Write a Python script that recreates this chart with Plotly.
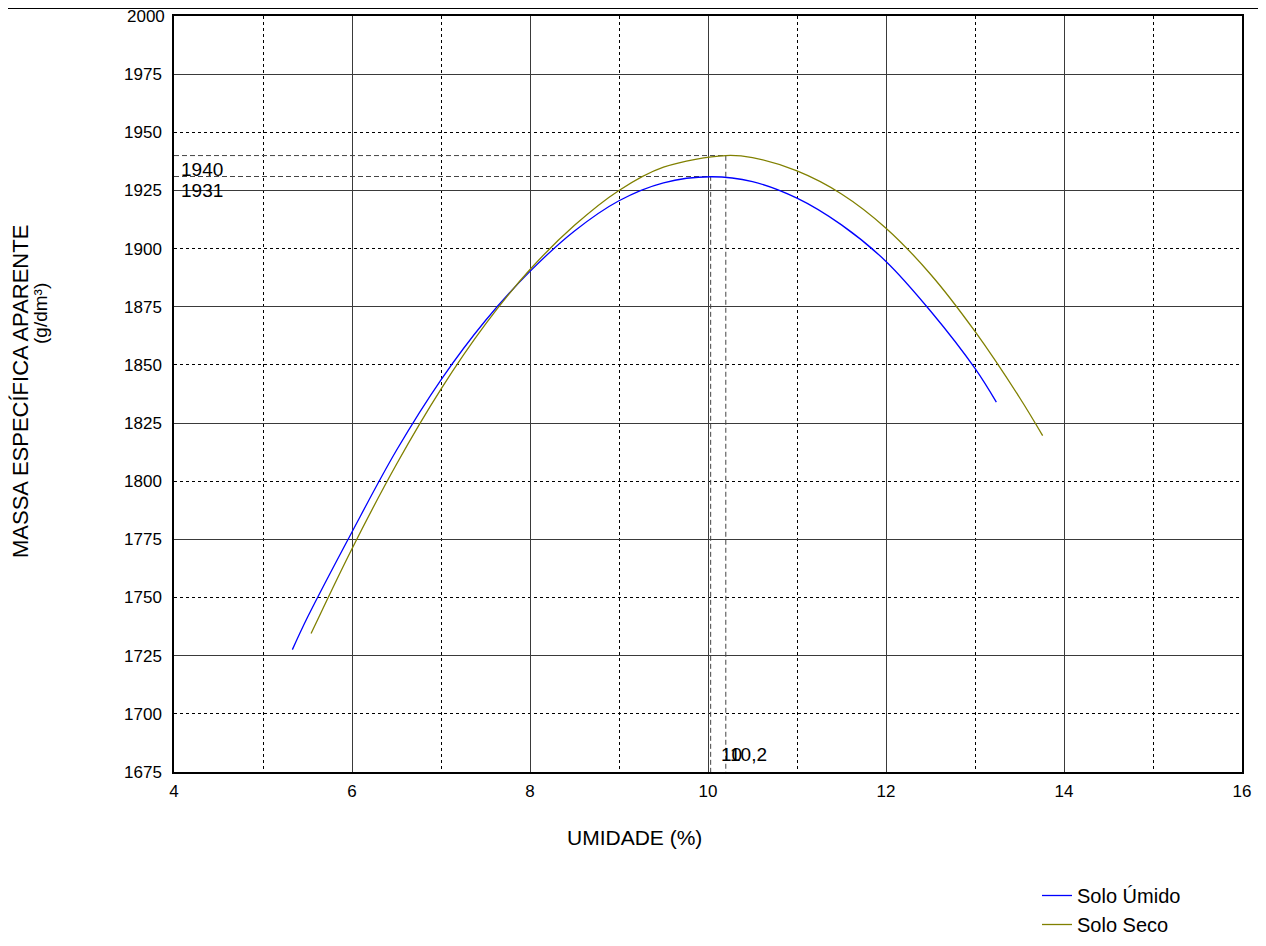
import plotly.graph_objects as go

# --- data ---
umido_x = [5.33, 5.5, 6.0, 6.5, 7.0, 7.5, 8.0, 8.5, 9.0, 9.5, 10.03, 10.5, 11.0, 11.5, 12.0, 12.5, 13.0, 13.24]
umido_y = [1727.6, 1741.5, 1778.2, 1813.3, 1843.6, 1869.1, 1890.2, 1907.6, 1920.6, 1928.3, 1930.9, 1928.8, 1921.7, 1910.2, 1894.5, 1873.2, 1848.5, 1834.0]

seco_x = [5.54, 6.0, 6.5, 7.0, 7.5, 8.0, 8.5, 9.0, 9.5, 10.2, 10.5, 11.0, 11.5, 12.0, 12.5, 13.0, 13.5, 13.76]
seco_y = [1734.5, 1771.0, 1807.3, 1839.6, 1867.5, 1891.0, 1910.0, 1925.0, 1935.0, 1940.0, 1939.1, 1933.4, 1923.5, 1908.8, 1889.0, 1864.4, 1836.0, 1819.6]

opt_x = [10.03, 10.2]
opt_y = [1931, 1940]
opt_x_labels = ["10", "10,2"]
opt_y_labels = ["1931", "1940"]

series_names = ["Solo Úmido", "Solo Seco"]
series_colors = ["#0000FF", "#808000"]

x_range = [4, 16]
y_range = [1675, 2000]
x_ticks = [4, 6, 8, 10, 12, 14, 16]
y_ticks = list(range(1675, 2001, 25))
x_solid_grid = [6, 8, 10, 12, 14]
y_solid_grid = list(range(1725, 2000, 50))

FONT = "Liberation Sans, Arial, sans-serif"

# figure geometry (page body has an 8px margin)
W, H = 1258, 938
ML, MT, PW, PH = 166, 8, 1068, 756
PB = MT + PH  # plot bottom in figure px


def px_x(xf):
    return (xf - ML) / PW


def px_y(yf):
    return (PB - yf) / PH


fig = go.Figure()

# invisible helper trace so the overlay axes (solid grid) exist
fig.add_trace(go.Scatter(x=umido_x, y=umido_y, xaxis="x2", yaxis="y2",
                         mode="lines", line=dict(width=0), opacity=0,
                         showlegend=False, hoverinfo="skip"))

# dashed guide lines to the optimum points
for ox, oy in zip(opt_x, opt_y):
    fig.add_trace(go.Scatter(x=[x_range[0], ox, ox], y=[oy, oy, y_range[0]],
                             mode="lines", line=dict(color="#444444", width=1, dash="5px,3px"),
                             showlegend=False, hoverinfo="skip"))

fig.add_trace(go.Scatter(x=umido_x, y=umido_y, name=series_names[0], mode="lines",
                         line=dict(color=series_colors[0], width=1.3, shape="spline", smoothing=1.0)))
fig.add_trace(go.Scatter(x=seco_x, y=seco_y, name=series_names[1], mode="lines",
                         line=dict(color=series_colors[1], width=1.3, shape="spline", smoothing=1.0)))

annotations = []
for oy, lab in zip(opt_y, opt_y_labels):
    annotations.append(dict(x=x_range[0], y=oy, xref="x", yref="y", text=lab, showarrow=False,
                            xanchor="left", yanchor="top", xshift=5, yshift=-1,
                            font=dict(family=FONT, size=19, color="black")))
shifts = [8, 2]
for ox, lab, sh in zip(opt_x, opt_x_labels, shifts):
    annotations.append(dict(x=ox, y=y_range[0], xref="x", yref="y", text=lab, showarrow=False,
                            xanchor="left", yanchor="bottom", xshift=sh, yshift=5,
                            font=dict(family=FONT, size=19, color="black")))

# top y tick label (the built-in one would sit partly above the page edge)
annotations.append(dict(x=0, y=y_ticks[-1], xref="paper", yref="y", text=str(y_ticks[-1]),
                        showarrow=False, xanchor="right", yanchor="middle", xshift=-7,
                        font=dict(family=FONT, size=17, color="black")))

# axis titles
annotations.append(dict(x=px_x(12), y=px_y(384), xref="paper", yref="paper",
                        text="MASSA ESPECÍFICA APARENTE", textangle=-90, showarrow=False,
                        xanchor="center", yanchor="middle",
                        font=dict(family=FONT, size=22, color="black")))
annotations.append(dict(x=px_x(32), y=px_y(306), xref="paper", yref="paper",
                        text="(g/dm³)", textangle=-90, showarrow=False,
                        xanchor="center", yanchor="middle",
                        font=dict(family=FONT, size=19, color="black")))
annotations.append(dict(x=px_x(626), y=px_y(830), xref="paper", yref="paper",
                        text="UMIDADE (%)", showarrow=False, xanchor="center", yanchor="middle",
                        font=dict(family=FONT, size=21, color="black")))

shapes = [
    # outer frame (top and right edges)
    dict(type="line", xref="paper", yref="paper", x0=px_x(0), x1=px_x(1254),
         y0=px_y(0.5), y1=px_y(0.5), line=dict(color="black", width=1)),
    dict(type="line", xref="paper", yref="paper", x0=px_x(1254), x1=px_x(1254),
         y0=px_y(0), y1=px_y(H + 5), line=dict(color="black", width=1)),
]

fig.update_layout(
    width=W, height=H,
    margin=dict(l=ML, r=W - ML - PW, t=MT, b=H - PB, autoexpand=False),
    paper_bgcolor="white", plot_bgcolor="white",
    font=dict(family=FONT, size=17, color="black"),
    xaxis=dict(range=x_range, tickvals=x_ticks, showgrid=False,
               minor=dict(dtick=1, tick0=4, showgrid=True, gridcolor="black", griddash="dot", gridwidth=1),
               showline=True, linecolor="black", linewidth=1.5, mirror=True,
               ticks="", zeroline=False, tickfont=dict(size=17), ticklabelstandoff=3),
    yaxis=dict(range=y_range, tickvals=y_ticks[:-1], showgrid=True, gridcolor="black", griddash="dot",
               gridwidth=1, showline=True, linecolor="black", linewidth=1.5, mirror=True,
               ticks="", zeroline=False, tickfont=dict(size=17), ticklabelstandoff=7),
    xaxis2=dict(range=x_range, overlaying="x", tickvals=x_solid_grid, showticklabels=False,
                showgrid=True, gridcolor="#3a3a3a", gridwidth=1, zeroline=False, showline=False, ticks=""),
    yaxis2=dict(range=y_range, overlaying="y", tickvals=y_solid_grid, showticklabels=False,
                showgrid=True, gridcolor="#3a3a3a", gridwidth=1, zeroline=False, showline=False, ticks=""),
    legend=dict(x=px_x(1029), y=px_y(868), xanchor="left", yanchor="top",
                bgcolor="rgba(0,0,0,0)", font=dict(family=FONT, size=20, color="black"),
                tracegroupgap=0),
    annotations=annotations,
    shapes=shapes,
    showlegend=True,
)

fig.write_html("out.html")
